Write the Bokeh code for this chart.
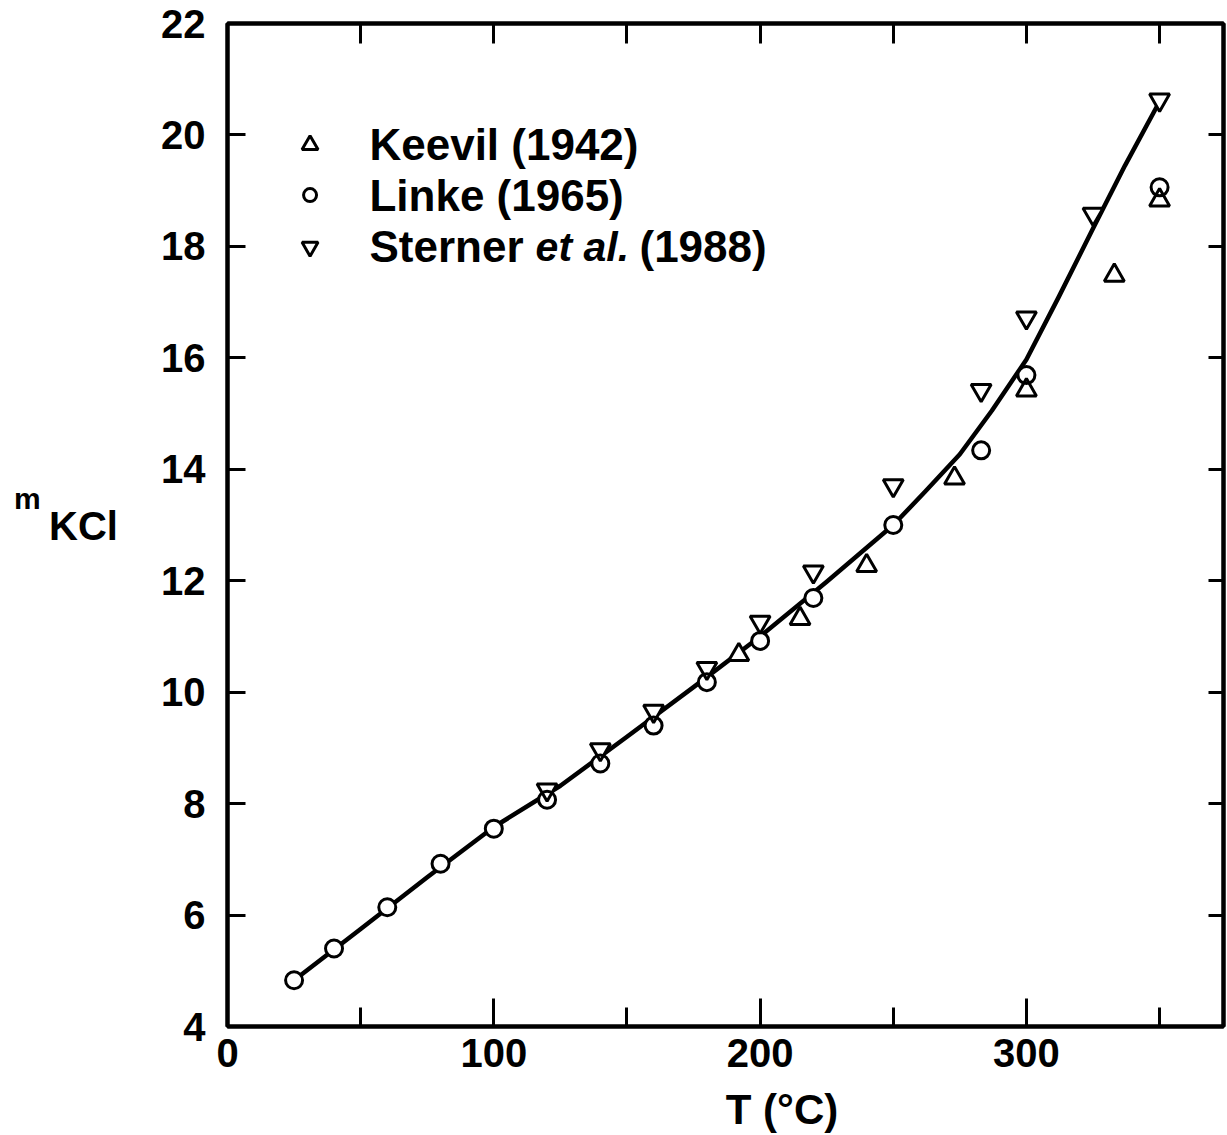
from bokeh.plotting import figure
from bokeh.models import Range1d, LinearAxis, FixedTicker, Label, Div
from bokeh.layouts import row, column
from bokeh.embed import file_html
from bokeh.resources import INLINE

# ---------------- data ----------------
linke_T = [25, 40, 60, 80, 100, 120, 140, 160, 180, 200, 220, 250, 283, 300, 350]
linke_m = [4.83, 5.40, 6.14, 6.92, 7.55, 8.07, 8.72, 9.40, 10.18, 10.92, 11.69, 13.00, 14.34, 15.69, 19.06]

keevil_T = [192, 215, 240, 273, 300, 333, 350]
keevil_m = [10.67, 11.32, 12.27, 13.84, 15.42, 17.48, 18.83]

sterner_T = [120, 140, 160, 180, 200, 220, 250, 283, 300, 325, 350]
sterner_m = [8.25, 8.97, 9.66, 10.43, 11.26, 12.16, 13.71, 15.42, 16.72, 18.58, 20.63]

fit_T = [25, 50, 75, 100, 125, 150, 175, 200, 225, 250, 262, 275, 287, 300, 312, 325, 337, 350]
fit_m = [4.83, 5.75, 6.68, 7.58, 8.32, 9.20, 10.09, 11.00, 11.98, 13.00, 13.60, 14.27, 15.05, 15.97,
         17.08, 18.32, 19.45, 20.60]

x_major_ticks = [0, 100, 200, 300]
x_minor_ticks = [50, 150, 250, 350]
x_top_ticks = [50, 100, 150, 200, 250, 300, 350]
y_left_ticks = [4, 6, 8, 10, 12, 14, 16, 18, 20, 22]
y_right_ticks = [6, 8, 10, 12, 14, 16, 18, 20]

legend_names = ["Keevil (1942)", "Linke (1965)"]
FONT = "Liberation Sans"

# ---------------- figure ----------------
LEFT_W = 125
p = figure(width=1227 - LEFT_W, height=1085,
           x_range=Range1d(0, 374), y_range=Range1d(4, 22),
           output_backend="svg", toolbar_location=None,
           x_axis_location=None, y_axis_location=None,
           min_border_left=227 - LEFT_W, min_border_right=4,
           min_border_top=23, min_border_bottom=59)
p.grid.grid_line_color = None
p.outline_line_color = "black"
p.outline_line_width = 4
p.background_fill_color = "white"
p.border_fill_color = "white"


def style_axis(ax, tick_in, show_labels=True, standoff=16):
    ax.axis_line_width = 4
    ax.axis_line_color = "black"
    ax.major_tick_line_width = 3
    ax.minor_tick_line_width = 3
    ax.major_tick_in = tick_in
    ax.major_tick_out = 0
    ax.minor_tick_in = 0
    ax.minor_tick_out = 0
    ax.major_label_text_font = FONT
    ax.major_label_text_font_style = "bold"
    ax.major_label_standoff = standoff
    if show_labels:
        ax.major_label_text_font_size = "40px"
        ax.major_label_text_color = "black"
    else:
        ax.major_label_text_font_size = "1px"
        ax.major_label_text_color = None


xb = LinearAxis(ticker=FixedTicker(ticks=x_major_ticks, minor_ticks=x_minor_ticks))
style_axis(xb, 28, standoff=12)
xb.minor_tick_in = 19
p.add_layout(xb, "below")

xt = LinearAxis(ticker=FixedTicker(ticks=x_top_ticks))
style_axis(xt, 20, show_labels=False, standoff=0)
p.add_layout(xt, "above")

yl = LinearAxis(ticker=FixedTicker(ticks=y_left_ticks))
style_axis(yl, 18, standoff=22)
p.add_layout(yl, "left")

yr = LinearAxis(ticker=FixedTicker(ticks=y_right_ticks))
style_axis(yr, 15, show_labels=False, standoff=0)
p.add_layout(yr, "right")

# ---------------- fitted curve ----------------
p.line(fit_T, fit_m, line_width=4.5, line_color="black", line_join="round")

# ---------------- data markers ----------------
series = [
    (linke_T, linke_m, "circle", 17),
    (keevil_T, keevil_m, "triangle", 20),
    (sterner_T, sterner_m, "inverted_triangle", 20),
]
for xs, ys, mk, sz in series:
    p.scatter(xs, ys, marker=mk, size=sz, fill_color="white", line_color=None)
for xs, ys, mk, sz in series:
    p.scatter(xs, ys, marker=mk, size=sz, fill_color=None,
              line_color="black", line_width=3)

# ---------------- legend (manual, to keep "et al." italic) ----------------
leg_x_marker = 31
leg_x_text = 53.3
leg_y = [19.82, 18.92, 17.99]
leg_markers = ["triangle", "circle", "inverted_triangle"]
leg_sizes = [16, 13, 16]
for mk, yy, sz in zip(leg_markers, leg_y, leg_sizes):
    p.scatter([leg_x_marker], [yy], marker=mk, size=sz, fill_color="white",
              line_color="black", line_width=3)

lab_kw = dict(text_font=FONT, text_font_style="bold", text_font_size="44px",
              text_baseline="middle", text_color="black")
p.add_layout(Label(x=leg_x_text, y=leg_y[0], text=legend_names[0], **lab_kw))
p.add_layout(Label(x=leg_x_text, y=leg_y[1], text=legend_names[1], **lab_kw))
p.add_layout(Label(x=leg_x_text, y=leg_y[2], text="Sterner", **lab_kw))
it_kw = dict(lab_kw)
it_kw["text_font_style"] = "bold italic"
it_kw["text_font_size"] = "41px"
p.add_layout(Label(x=115.7, y=leg_y[2], text="et al.", **it_kw))
p.add_layout(Label(x=154.7, y=leg_y[2], text="(1988)", **lab_kw))

# ---------------- axis titles (HTML text outside the frame) ----------------
ylab = Div(width=LEFT_W, height=1085, margin=0, text=(
    '<div style="position:relative;width:125px;height:1085px;white-space:nowrap;'
    'font-family:\'Liberation Sans\';font-weight:bold;color:black;">'
    '<span style="position:absolute;left:14px;top:484px;font-size:30px;line-height:30px;">m</span>'
    '<span style="position:absolute;left:49px;top:506px;font-size:40px;line-height:40px;">KCl</span>'
    '</div>'))

xlab = Div(width=1227, height=50, margin=0, text=(
    '<div style="position:relative;width:1227px;height:50px;white-space:nowrap;'
    'font-family:\'Liberation Sans\';font-weight:bold;color:black;">'
    '<span style="position:absolute;left:682px;width:200px;text-align:center;top:4px;'
    'font-size:42px;line-height:42px;">T (°C)</span>'
    '</div>'))

layout = column(row(ylab, p, spacing=0), xlab, spacing=0)

open("out.html", "w").write(file_html(layout, INLINE))
